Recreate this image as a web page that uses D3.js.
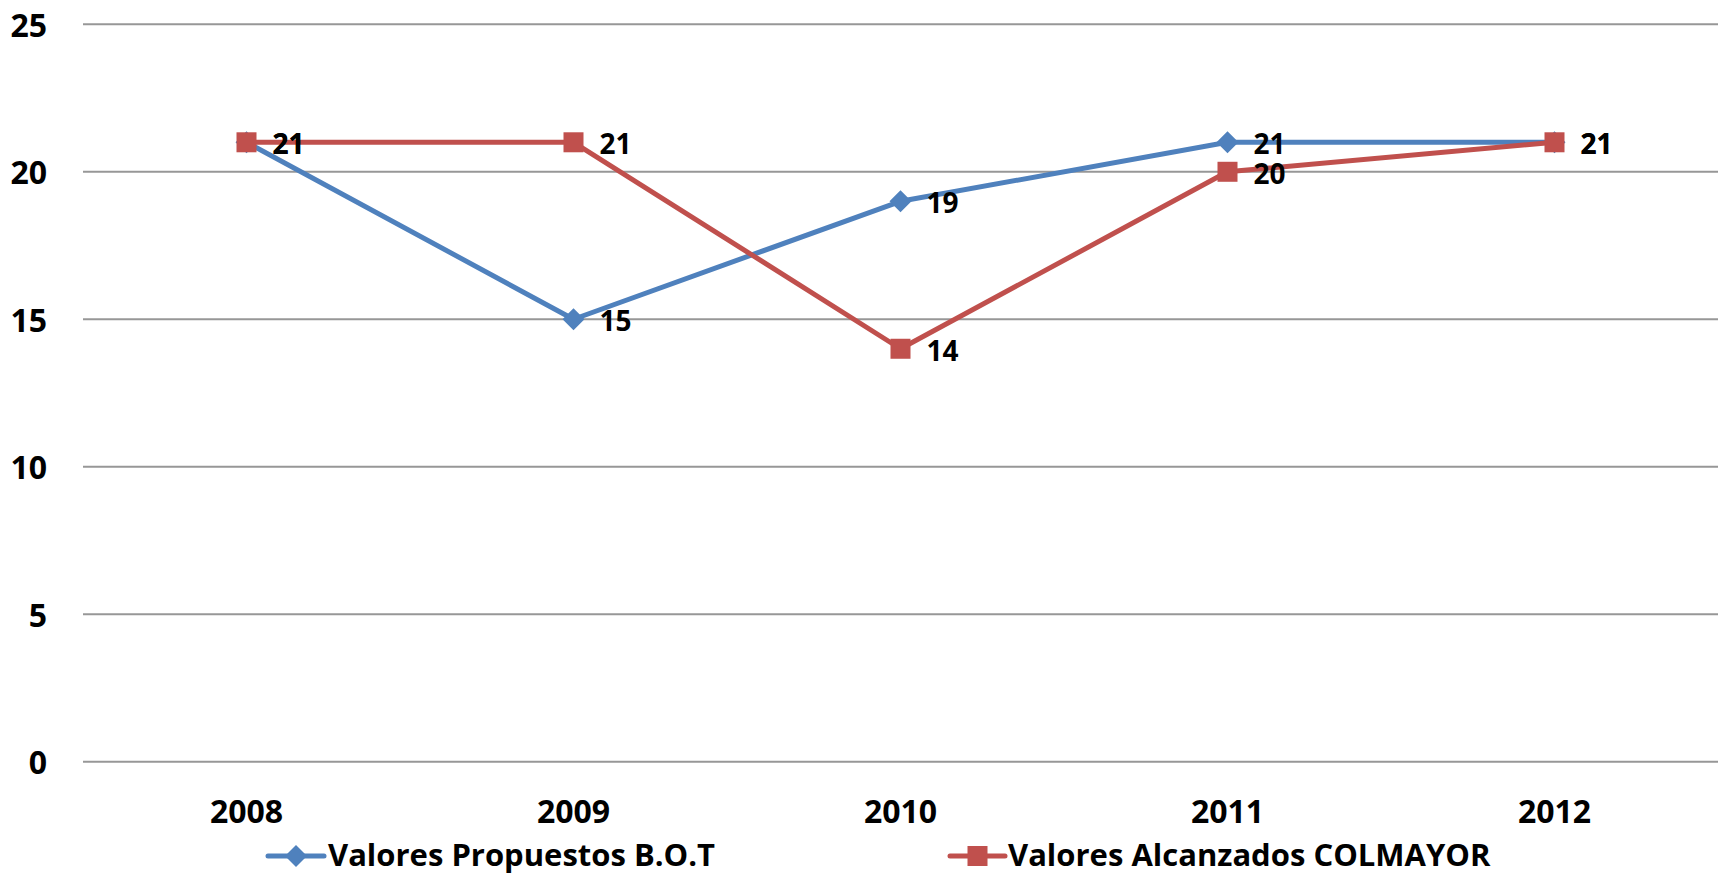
<!DOCTYPE html>
<html><head><meta charset="utf-8">
<script src="https://cdn.jsdelivr.net/npm/d3@7"></script>
<style>body{margin:0;background:#fff}svg{display:block}text{font-family:"Open Sans",sans-serif;font-weight:bold;fill:#000}</style>
</head><body>
<svg id="c" width="1723" height="875"></svg>
<script>
const categories = ["2008","2009","2010","2011","2012"];
const propuestos = [21,15,19,21,21];
const alcanzados = [21,21,14,20,21];
const yTicks = [0,5,10,15,20,25];
const seriesNames = ["Valores Propuestos B.O.T","Valores Alcanzados COLMAYOR"];

const svg = d3.select("#c");
const L = 83, R = 1718, T = 24.3, B = 761.7;
const x = d3.scaleBand().domain(categories).range([L,R]);
const y = d3.scaleLinear().domain([0,25]).range([B,T]);
const cx = c => x(c) + x.bandwidth()/2;

// gridlines
svg.append("g").selectAll("line").data(yTicks).join("line")
  .attr("x1",L).attr("x2",R).attr("y1",d=>y(d)).attr("y2",d=>y(d))
  .attr("stroke","#979797").attr("stroke-width",2);

// y labels
svg.append("g").selectAll("text").data(yTicks).join("text")
  .attr("x",47).attr("y",d=>y(d)).attr("text-anchor","end").attr("dominant-baseline","central")
  .attr("font-size",32).text(d=>d);

// x labels
svg.append("g").selectAll("text").data(categories).join("text")
  .attr("x",d=>cx(d)).attr("y",810).attr("text-anchor","middle").attr("dominant-baseline","central")
  .attr("font-size",32).text(d=>d);

const series = [
  {name:seriesNames[0], values:propuestos, color:"#4F81BD", marker:"diamond"},
  {name:seriesNames[1], values:alcanzados, color:"#C0504D", marker:"square"}
];
const line = d3.line().x((d,i)=>cx(categories[i])).y(d=>y(d));

function drawMarker(g, type, color, px, py){
  if(type==="square"){
    g.append("rect").attr("x",px-10).attr("y",py-10).attr("width",20).attr("height",20).attr("fill",color);
  } else {
    g.append("path").attr("d","M0,-11L11,0L0,11L-11,0Z").attr("transform",`translate(${px},${py})`).attr("fill",color);
  }
}

series.forEach(s=>{
  const g = svg.append("g");
  g.append("path").datum(s.values).attr("d",line).attr("fill","none")
    .attr("stroke",s.color).attr("stroke-width",5).attr("stroke-linejoin","round");
  s.values.forEach((v,i)=>drawMarker(g,s.marker,s.color,cx(categories[i]),y(v)));
});
series.forEach(s=>{
  svg.append("g").selectAll("text").data(s.values).join("text")
    .attr("x",(d,i)=>cx(categories[i])+26).attr("y",d=>y(d)+1)
    .attr("dominant-baseline","central").attr("font-size",28).text(d=>d);
});

// legend
const leg = [{x0:268,x1:324,tx:328},{x0:950,x1:1005,tx:1008}];
series.forEach((s,i)=>{
  const g = svg.append("g");
  const ly = 856;
  g.append("line").attr("x1",leg[i].x0).attr("x2",leg[i].x1).attr("y1",ly).attr("y2",ly)
    .attr("stroke",s.color).attr("stroke-width",5).attr("stroke-linecap","round");
  drawMarker(g,s.marker,s.color,(leg[i].x0+leg[i].x1)/2,ly);
  g.append("text").attr("x",leg[i].tx).attr("y",866)
    .attr("font-size",31).text(s.name);
});
</script>
</body></html>
